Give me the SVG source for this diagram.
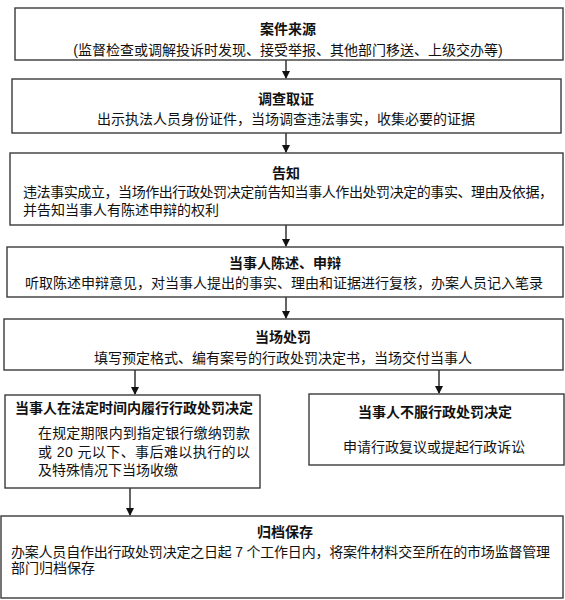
<svg xmlns="http://www.w3.org/2000/svg" width="565" height="600" viewBox="0 0 565 600">
<style>
.box{fill:#fff;stroke:#3a3a3a;stroke-width:1.4}
text{font-family:"Liberation Sans","Noto Sans CJK SC",sans-serif;font-size:14px;fill:#111}
.t{font-weight:bold;text-anchor:middle}
.c{text-anchor:middle}
.conn{stroke:#111;stroke-width:1.3;fill:none}
</style>
<defs>
<marker id="ah" markerWidth="8" markerHeight="8" refX="7" refY="4" orient="auto" markerUnits="userSpaceOnUse">
<path d="M0,0 L8,4 L0,8 Z" fill="#111"/>
</marker>
</defs>
<rect width="565" height="600" fill="#fff"/>
<g id="connectors">
<line class="conn" x1="286" y1="60" x2="286" y2="78" marker-end="url(#ah)"/>
<line class="conn" x1="286" y1="133" x2="286" y2="152" marker-end="url(#ah)"/>
<line class="conn" x1="286" y1="225" x2="286" y2="246" marker-end="url(#ah)"/>
<line class="conn" x1="286" y1="297" x2="286" y2="318" marker-end="url(#ah)"/>
<line class="conn" x1="135" y1="370" x2="135" y2="394" marker-end="url(#ah)"/>
<line class="conn" x1="439" y1="370" x2="439" y2="393" marker-end="url(#ah)"/>
<line class="conn" x1="130" y1="488" x2="130" y2="515" marker-end="url(#ah)"/>
</g>
<g id="n1">
<rect class="box" x="15" y="8" width="548" height="52"/>
<text class="t" x="288" y="34">案件来源</text>
<text class="c" x="288" y="55">(监督检查或调解投诉时发现、接受举报、其他部门移送、上级交办等)</text>
</g>
<g id="n2">
<rect class="box" x="12" y="79" width="549" height="54"/>
<text class="t" x="286" y="104">调查取证</text>
<text class="c" x="286" y="124">出示执法人员身份证件，当场调查违法事实，收集必要的证据</text>
</g>
<g id="n3">
<rect class="box" x="10" y="153" width="553" height="72"/>
<text class="t" x="286" y="178">告知</text>
<text x="23" y="197" textLength="530" lengthAdjust="spacing">违法事实成立，当场作出行政处罚决定前告知当事人作出处罚决定的事实、理由及依据，</text>
<text x="23" y="215">并告知当事人有陈述申辩的权利</text>
</g>
<g id="n4">
<rect class="box" x="7" y="247" width="556" height="50"/>
<text class="t" x="285" y="268">当事人陈述、申辩</text>
<text class="c" x="284" y="288">听取陈述申辩意见，对当事人提出的事实、理由和证据进行复核，办案人员记入笔录</text>
</g>
<g id="n5">
<rect class="box" x="4" y="319" width="559" height="51"/>
<text class="t" x="283" y="342">当场处罚</text>
<text class="c" x="283" y="363">填写预定格式、编有案号的行政处罚决定书，当场交付当事人</text>
</g>
<g id="n6">
<rect class="box" x="5" y="395" width="255" height="93"/>
<text class="t" x="134" y="413">当事人在法定时间内履行行政处罚决定</text>
<text x="38" y="438" textLength="212" lengthAdjust="spacing">在规定期限内到指定银行缴纳罚款</text>
<text x="38" y="457" textLength="212" lengthAdjust="spacing">或 20 元以下、事后难以执行的以</text>
<text x="38" y="475">及特殊情况下当场收缴</text>
</g>
<g id="n7">
<rect class="box" x="309" y="394" width="255" height="71"/>
<text class="t" x="435" y="417">当事人不服行政处罚决定</text>
<text class="c" x="434" y="452">申请行政复议或提起行政诉讼</text>
</g>
<g id="n8">
<rect class="box" x="1" y="516" width="562" height="82"/>
<text class="t" x="285" y="537">归档保存</text>
<text x="11" y="557" textLength="539" lengthAdjust="spacing">办案人员自作出行政处罚决定之日起 7 个工作日内，将案件材料交至所在的市场监督管理</text>
<text x="11" y="573">部门归档保存</text>
</g>
</svg>
